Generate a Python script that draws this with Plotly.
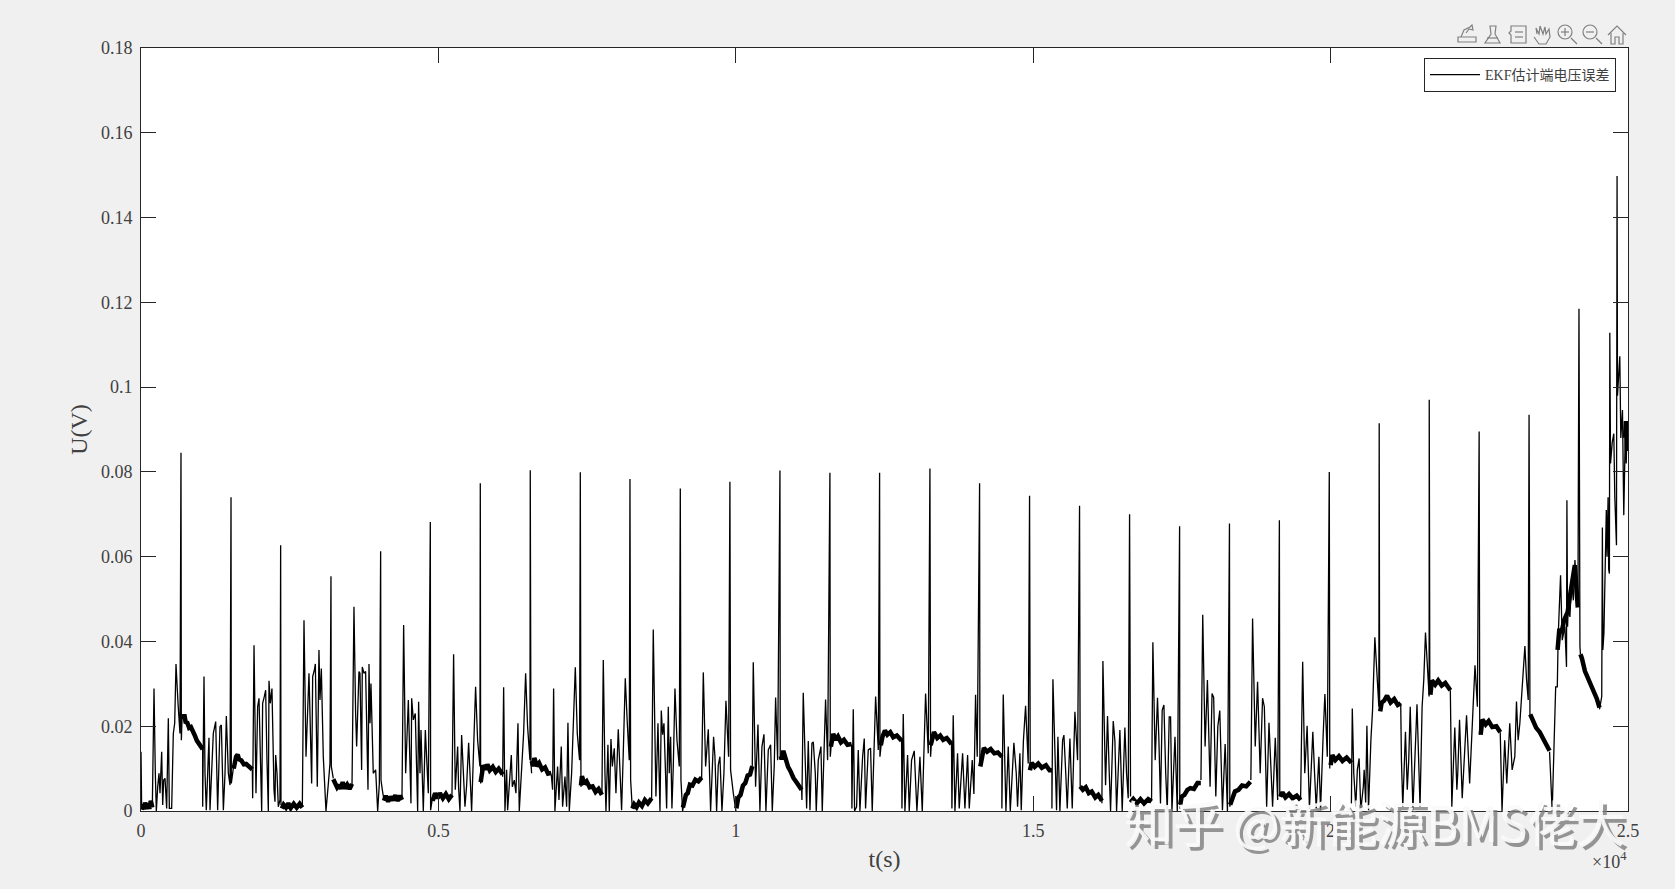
import plotly.graph_objects as go

# Readings from the picture: (t in s, U in mV)
LINE_A = [(0,14.0),(11,0.6),(191,1.4),(196,8.9),(219,28.9),(241,8.9),(258,0),(281,5.7),(303,8.9),(320,4.2),(348,14.0),(365,1.4),(382,7.3),(404,7.7),(432,0.6),(460,21.9),(477,.6),(516,.6),(544,18.3),(567,20.7),(589,34.7),(623,25.4),(656,18.3),(673,84.5),(679,16.7),(690,21.5),(701,21.5),
(1038,14.8),(1038,1.0),(1060,31.7),(1077,8.9),(1099,.2),(1144,17.3),(1161,.2),(1200,15.2),(1217,18.3),(1257,21.1),(1274,8),(1290,.2),(1329,19.9),(1352,20.3),(1386,.2),(1414,8.9),(1436,22.4),(1470,8.9),(1498,6.1),(1515,74.0),(1520,6.5),(1554,10.1),(1599,12.8),
(1874,9.7),(1879,3.0),(1902,39.1),(1924,8.9),(1935,4.2),(1963,24.6),(1986,26.6),(2031,0),(2047,25.4),(2075,27.0),(2098,28.5),(2120,12.0),(2143,0),(2154,30.7),(2176,25.4),(2204,28.9),(2238,5.0),(2255,2.2),(2266,13.2),(2289,8.9),(2311,1.0),(2339,2.6),(2350,62.7),(2356,1.4),
(2715,1.0),(2720,8.9),(2743,45.0),(2777,12.8),(2805,24.6),(2827,32.5),(2872,6.5),(2889,31.7),(2917,33.2),(2934,34.7),(2967,5.7),(2995,38.0),(3012,26.2),(3035,33.6),(3068,12.8),(3113,0),(3158,7.3),(3180,11.2),(3197,55.4),(3203,10.5),(3236,7.7),
(3551,5.7),(3584,48.2),(3612,23.0),(3629,15.2),(3668,32.9),(3685,32.5),(3713,9.7),(3724,34.0),(3752,32.5),(3780,32.9),(3820,5.0),(3837,34.7),(3854,20.7),(3870,30.1),(3909,8.9),(3949,9.7),(3983,0),(4011,6.5),(4033,61.3),(4039,7.3),(4061,5.0),(4089,2.6),
(4392,3.0),(4420,43.9),(4454,8.9),(4499,26.2),(4543,1.8),(4555,26.6),(4583,21.5),(4616,23.0),(4656,0),(4672,25.8),(4695,8.9),(4712,19.1),(4751,0),(4785,19.1),(4835,4.2),(4869,68.2),(4874,.2),(4908,3.4)]
LINE_B = [(5233,3.4),(5261,37.0),(5289,5.0),(5329,15.2),(5345,5.5),(5368,0),(5396,17.9),(5424,8.1),(5452,1.0),(5480,6),(5514,16.1),(5564,0),(5581,7.3),(5603,15.2),(5631,29.3),(5665,16.7),(5704,10.5),(5710,77.3),(5716,6.5),(5760,10.5),
(6086,8.1),(6103,29.2),(6125,0),(6153,9.7),(6170,.2),(6232,13.2),(6249,5.7),(6282,7.3),(6310,4.2),(6344,20.7),(6366,0),(6406,8.9),(6439,18.3),(6473,32.5),(6506,19.9),(6546,12.0),(6551,80.4),(6563,11.2),(6574,8.9),
(6905,8.5),(6927,5.0),(6944,28.9),(6966,0),(7011,10.5),(7034,2.6),(7073,15.2),(7095,1),(7135,8.1),(7163,1),(7185,20.8),(7208,0),(7247,8.9),(7275,19.1),(7309,33.9),(7342,18.3),(7381,12.0),(7393,79.9),(7404,5.7),(7421,8.1),
(7757,4.2),(7780,35.6),(7808,8.9),(7825,0),(7858,15.6),(7881,0),(7909,17.0),(7932,10.5),(7965,14.8),(7993,4.2),(8032,19.3),(8060,8.9),(8088,.2),(8116,13.6),(8150,31.3),(8184,20.7),(8217,12.0),(8229,78.3),(8240,7.3),(8268,.6),
(8593,2.6),(8621,42.8),(8655,12.8),(8666,3.4),(8700,20.7),(8734,0),(8756,23.7),(8778,18),(8801,20.7),(8823,8.9),(8846,.6),(8874,24.6),(8890,8.9),(8913,17.5),(8935,.6),(8958,10.5),(8986,28.9),(9020,16.7),(9059,10.5),(9076,76.1),(9087,7.3),(9115,0),(9154,3),
(9435,7.7),(9463,32.7),(9502,10.5),(9547,19.3),(9586,0),(9636,17.5),(9659,12.8),(9687,0),(9715,10.8),(9743,12.8),(9777,0),(9810,8.9),(9844,26.0),(9889,12.8),(9911,77.7),(9922,9.7),(9968,4.2),(10012,0),
(10287,10.5),(10304,35.1),(10343,5.7),(10383,20.4),(10416,0),(10450,15.2),(10484,18.1),(10517,0),(10557,14.4),(10596,15.6),(10624,0),(10658,11),(10680,26.8),(10714,12.0),(10753,80.3),(10758,12.8),(10781,13.2)]
LINE_C = [(11117,5.3),(11123,2.6),(11145,27.9),(11185,8.9),(11202,.6),(11230,16.5),(11258,.2),(11291,16.0),(11314,16.3),(11348,8.9),(11364,0),(11398,12),(11443,15.2),(11465,0),(11493,12),(11521,26.3),(11555,12),(11594,79.8),(11600,12.8),(11622,16.7),
(11959,15.6),(11964,.6),(11987,24),(12009,0),(12043,1),(12071,14.4),(12099,0),(12144,12.8),(12172,17.1),(12194,.6),(12239,14.4),(12278,14.8),(12306,0),(12335,12),(12363,27),(12408,14.4),(12430,79.8),(12436,12.8),(12464,16.7),
(12800,17.1),(12806,.6),(12828,22.9),(12856,0),(12901,13.2),(12929,0),(12968,12),(13013,14.2),(13058,0),(13109,12.8),(13148,0),(13176,12.8),(13204,27.7),(13249,13.6),(13277,80.8),(13288,12.8),(13305,16.7),
(13640,16.0),(13647,.6),(13669,22.6),(13698,0),(13742,13.6),(13770,.6),(13827,13.6),(13866,.6),(13911,13.2),(13939,.6),(13989,12),(14017,4),(14045,27.4),(14073,12.8),(14113,77.3),(14118,10.8),(14135,11.5),
(14488,13.2),(14488,.6),(14511,27.5),(14535,8.9),(14556,0),(14595,15.2),(14629,0),(14690,16.1),(14730,8.9),(14752,1),(14791,13.6),(14814,.2),(14850,16.5),(14887,24.8),(14931,11.2),(14954,74.4),(14965,9.7),
(15330,9.3),(15330,.6),(15347,31.1),(15385,8.9),(15408,.2),(15431,17.5),(15464,0),(15510,16.7),(15532,17.9),(15563,8.9),(15588,.6),(15633,17.1),(15672,.6),(15717,23.4),(15762,12),(15795,72),(15800,8.9),(15806,5.7),
(16171,1.8),(16188,35.4),(16233,6.1),(16266,22.4),(16295,8.9),(16317,0),(16362,21.2),(16390,16.5),(16418,0),(16474,19.1),(16513,0),(16558,19.7),(16586,8.9),(16614,3),(16637,70),(16653,3.4),
(17007,2.6),(17029,39.8),(17068,12),(17107,26.7),(17130,17),(17157,1.8),(17186,23.8),(17215,25),(17245,8.9),(17271,.2),(17304,22.2),(17327,22.2),(17350,0),(17401,17.5),(17440,0),(17479,67.2),(17482,.6),(17490,1.5),
(17838,7.3),(17868,46.3),(17908,15.2),(17947,30.9),(17992,5.7),(18025,27.7),(18052,26.8),(18088,3.4),(18122,19.9),(18155,23.7),(18200,.2),(18245,15.8),(18284,0),(18318,67.8),(18324,1),(18330,1.5),
(18678,7.3),(18707,45.4),(18752,15.2),(18791,30.5),(18835,8.9),(18875,26.6),(18905,24.6),(18944,1),(18983,20.8),(19017,8.9),(19044,1),(19089,17.3),(19129,2.6),(19158,68.6),(19165,3.4)]
LINE_D = [(19515,2.6),(19550,35.2),(19585,8.9),(19625,20.1),(19664,.6),(19721,18.7),(19750,8.9),(19778,.6),(19823,12.8),(19851,.2),(19895,18),(19924,27.6),(19964,12.8),(19998,80),(20006,10),
(20370,1.8),(20385,24.2),(20410,8.9),(20444,1),(20470,9.7),(20500,12.4),(20528,.2),(20570,5.7),(20585,9.7),(20610,2),(20631,20.1),(20658,.2),(20698,16.7),(20726,23.8),(20765,41),(20800,30.9),(20832,24.6),(20838,91.5),(20845,24.6),
(21200,25.4),(21212,12),(21235,1),(21262,11),(21280,18.7),(21310,5),(21335,12),(21360,24.6),(21405,.2),(21474,25.2),(21525,1),(21560,24.6),(21588,30.9),(21617,42.1),(21650,32.5),(21678,27),(21680,97),(21690,28),
(22035,28.5),(22060,1),(22110,19.7),(22145,5),(22160,8.9),(22190,21.5),(22235,3),(22308,22.6),(22360,6.5),(22410,21.5),(22450,34.4),(22490,24.6),(22520,89.5),(22530,18),
(22875,18.6),(22905,0),(22950,16.7),(22985,6.5),(23035,20.7),(23075,9.7),(23120,12.8),(23148,25.8),(23176,16.7),(23205,20.7),(23245,29.3),(23290,38.9),(23318,30.9),(23346,26.2),(23360,93.5),(23375,22.5),
(23705,14),(23749,0),(23775,12.8),(23808,29.3),(23835,29.3),(23850,41.1),(23890,55.6),(23918,40.3),(23963,43.5),(23990,34),(23997,73.3),(24008,43.5),(24020,48.2),(24047,45.8),(24076,54.5),(24105,49.7),(24132,59.2),(24160,52.1),(24183,50.6),(24200,118.5),(24216,38.8),(24225,37),
(24545,24),(24583,27),(24594,66.9),(24602,38),(24620,42),(24645,64),(24660,71),(24672,60),(24690,74),(24700,57),(24712,56),(24719,112.8),(24731,82),(24760,87),(24786,89),(24803,74),(24831,62.7),(24841,149.8),(24848,98),(24887,107.3),(24893,92),(24904,88),(24932,94.6),(24954,69.8),(24982,90.7),(24995,82),(25005,88),(25025,86)]

# The thick noisy plateaus between the bursts
BANDS = [
[(11,.3),(30,1.6),(50,.4),(70,2.0),(95,.5),(120,1.8),(140,.5),(165,2.4),(191,.8)],
[(701,21.6),(720,22.0),(729,22.8),(750,21.0),(780,20.8),(810,19.6),(840,19.8),(870,18.5),(900,18.0),(940,16.6),(970,16.0),(1000,15.6),(1038,14.6)],
[(1560,10.0),(1585,12.0),(1600,12.8),(1627,13.3),(1650,12.2),(1690,11.9),(1730,11.0),(1770,11.1),(1820,10.3),(1874,9.8)],
[(2370,.6),(2400,1.5),(2440,.8),(2480,1.8),(2520,.7),(2570,1.7),(2620,.8),(2670,1.7),(2715,.8)],
[(3236,7.5),(3265,6.3),(3300,5.6),(3330,6.2),(3360,5.2),(3394,6.8),(3430,5.3),(3470,6.2),(3510,5.2),(3551,6.4)],
[(4089,2.4),(4120,3.6),(4160,2.2),(4200,3.4),(4240,2.5),(4280,3.7),(4320,2.4),(4360,3.6),(4392,2.6)],
[(4908,2.4),(4950,4.2),(4990,3.0),(5030,4.2),(5080,3.0),(5130,4.0),(5180,2.8),(5233,3.8)],
[(5716,6.8),(5740,9.5),(5760,10.8),(5800,9.8),(5830,11.0),(5870,9.6),(5920,10.4),(5970,9.2),(6020,10.0),(6086,8.6)],
[(6574,11.8),(6600,10.6),(6620,12.5),(6660,10.6),(6700,11.3),(6750,9.8),(6800,10.3),(6850,8.8),(6905,9.0)],
[(7404,6.0),(7421,8.2),(7460,6.4),(7500,7.0),(7550,5.6),(7600,5.8),(7650,4.5),(7700,5.2),(7757,3.8)],
[(8268,.6),(8300,1.6),(8340,.9),(8380,2.0),(8430,1.2),(8480,2.6),(8530,1.8),(8593,3.0)],
[(9120,.8),(9140,2.5),(9170,3.8),(9200,4.2),(9238,6.2),(9280,6.0),(9330,7.4),(9380,7.0),(9435,7.9)],
[(10020,.6),(10052,3.2),(10090,3.8),(10130,6.0),(10170,6.6),(10210,8.4),(10250,8.6),(10287,10.6)],
[(10765,13),(10781,12.2),(10810,14.2),(10850,12.2),(10890,10.4),(10930,9.4),(10980,7.8),(11040,6.6),(11117,5.0)],
[(11610,15.2),(11635,17.6),(11650,18.2),(11690,16.8),(11730,17.6),(11780,16.2),(11830,16.8),(11890,15.6),(11959,15.8)],
[(12450,15.5),(12480,17.6),(12520,19.0),(12560,18.0),(12610,18.6),(12660,17.4),(12720,17.8),(12800,16.6)],
[(13290,15.5),(13320,17.6),(13345,18.6),(13400,17.2),(13450,17.8),(13500,16.8),(13560,17.2),(13640,15.8)],
[(14125,10.5),(14150,12.8),(14185,14.9),(14240,14.0),(14300,14.6),(14360,13.6),(14420,13.8),(14488,12.8)],
[(14960,9.6),(14990,11.4),(15040,10.4),(15100,11.2),(15160,10.2),(15230,10.8),(15290,9.6),(15330,9.6)],
[(15806,5.8),(15850,5.0),(15900,5.6),(15950,4.2),(16000,4.6),(16060,3.2),(16110,3.8),(16171,2.4)],
[(16653,2.0),(16700,2.8),(16760,1.8),(16820,2.8),(16880,1.8),(16950,2.8),(17007,2.2)],
[(17490,1.5),(17513,3.4),(17560,3.8),(17610,5.0),(17660,5.4),(17720,5.2),(17780,6.6),(17836,6.6)],
[(18330,1.5),(18370,3.2),(18410,4.6),(18470,5.0),(18530,6.0),(18600,5.8),(18670,6.9)],
[(19170,3.4),(19210,4.4),(19260,3.2),(19320,4.0),(19380,3.0),(19450,3.6),(19515,2.6)],
[(20020,10.8),(20050,13.2),(20100,12.0),(20160,12.9),(20220,11.8),(20290,12.6),(20370,11.4)],
[(20855,23.5),(20880,25.6),(20920,26.0),(20970,27.2),(21030,25.6),(21090,26.4),(21150,25.0),(21200,25.4)],
[(21700,27.4),(21725,30.8),(21780,29.8),(21830,30.8),(21890,29.6),(21950,30.2),(22035,28.5)],
[(22545,18),(22575,21.6),(22630,20.4),(22680,21.2),(22740,19.8),(22810,20.0),(22875,18.6)],
[(23380,22.8),(23430,20.8),(23480,19.6),(23540,18.6),(23600,17.0),(23660,15.6),(23705,14.2)],
[(23840,38),(23870,43),(23890,42),(23920,43),(23950,45),(23980,46),(24010,47),(24040,50),(24070,53),(24100,55),(24130,58),(24150,54),(24180,48)],
[(24225,37),(24250,36.0),(24300,33),(24350,31.5),(24400,29.5),(24450,28),(24500,26.5),(24545,24.4)],
[(24975,88),(24990,92),(25010,85),(25025,87)],
]

Y_TICKS = [0, .02, .04, .06, .08, .1, .12, .14, .16, .18]
Y_LABELS = ['0', '0.02', '0.04', '0.06', '0.08', '0.1', '0.12', '0.14', '0.16', '0.18']
X_TICKS = [0, 5000, 10000, 15000, 20000, 25000]
X_LABELS = ['0', '0.5', '1', '1.5', '2', '2.5']
T_CAL = 0.999  # the readings above run 0.1 % long
PLATEAU_GAP = 140  # a longer step in the line is a plateau, drawn by the band trace

line_t, line_u = [], []
previous = None
for seg in (LINE_A, LINE_B, LINE_C, LINE_D):
    for t, u in seg:
        if previous is not None and t - previous > PLATEAU_GAP:
            line_t.append(None)
            line_u.append(None)
        line_t.append(t * T_CAL)
        line_u.append(u / 1000)
        previous = t

band_t, band_u = [], []
for b in BANDS:
    band_t += [p[0] * T_CAL for p in b] + [None]
    band_u += [p[1] / 1000 for p in b] + [None]

SERIF = 'Liberation Serif, Noto Sans CJK SC'
INK = '#404040'
L, T, R, B = 141, 48, 1628, 811
W, H = 1675, 889
px = lambda x: (x - L) / (R - L)
py = lambda y: (B - y) / (B - T)

fig = go.Figure()
fig.add_trace(go.Scatter(x=line_t, y=line_u, mode='lines', connectgaps=False,
                         name='EKF估计端电压误差', line=dict(color='black', width=1.3)))
fig.add_trace(go.Scatter(x=band_t, y=band_u, mode='lines', showlegend=False,
                         line=dict(color='black', width=4.5)))

# toolbar icons
ICON = dict(color='#808080', width=1.2)
shapes = []
def path(pts, close=False):
    d = 'M' + 'L'.join(f'{px(x):.5f},{py(y):.5f}' for x, y in pts) + ('Z' if close else '')
    shapes.append(dict(type='path', xref='paper', yref='paper', path=d, line=ICON, layer='above'))
def circ(x0, y0, x1, y1):
    shapes.append(dict(type='circle', xref='paper', yref='paper', x0=px(x0), x1=px(x1),
                       y0=py(y0), y1=py(y1), line=ICON, layer='above'))
path([(1458, 42), (1476, 42), (1476, 37), (1458, 37)], True)
path([(1461, 37), (1464, 30), (1470, 27), (1472, 25), (1473, 30), (1469, 29), (1466, 33)])
path([(1490, 26), (1496, 26), (1495, 34), (1500, 43), (1485, 43), (1491, 34)], True)
path([(1487, 38), (1498, 38)])
path([(1511, 26), (1526, 26), (1526, 43), (1511, 43), (1511, 35), (1509, 33), (1511, 31)], True)
path([(1515, 32), (1523, 32)])
path([(1515, 37), (1523, 37)])
path([(1537, 34), (1536, 28), (1539, 34), (1540, 26), (1543, 34), (1545, 27), (1546, 34), (1549, 29),
      (1550, 37), (1546, 44), (1539, 44), (1534, 37)])
circ(1558, 25, 1572, 39)
path([(1571, 38), (1577, 44)])
path([(1561, 32), (1569, 32)])
path([(1565, 28), (1565, 36)])
circ(1583, 25, 1597, 39)
path([(1596, 38), (1602, 44)])
path([(1586, 32), (1594, 32)])
path([(1608, 35), (1617, 26), (1626, 35)])
path([(1611, 33), (1611, 44), (1615, 44), (1615, 37), (1619, 37), (1619, 44), (1623, 44), (1623, 33)])

WM = '知乎 @新能源BMS佬大'
annotations = [
    dict(text=WM, xref='paper', yref='paper', x=px(1379), y=py(824), xanchor='center', yanchor='middle',
         showarrow=False, font=dict(family='Noto Sans CJK SC', size=49, color='rgba(125,125,125,0.8)')),
    dict(text=WM, xref='paper', yref='paper', x=px(1375), y=py(820), xanchor='center', yanchor='middle',
         showarrow=False, font=dict(family='Noto Sans CJK SC', size=49, color='rgba(250,250,250,0.93)')),
    dict(text='×10<sup>4</sup>', xref='paper', yref='paper', x=px(1629), y=py(860), xanchor='right',
         yanchor='middle', showarrow=False, font=dict(family=SERIF, size=18, color=INK)),
]

axis = dict(showline=True, mirror='ticks', linecolor='#262626', linewidth=1, ticks='inside', ticklen=15,
            tickcolor='#262626', tickwidth=1, showgrid=False, zeroline=False,
            tickfont=dict(family=SERIF, size=18, color=INK))
fig.update_layout(
    width=W, height=H, autosize=False, paper_bgcolor='#f0f0f0', plot_bgcolor='white',
    margin=dict(l=L, r=W - R, t=T, b=H - B, pad=0),
    xaxis=dict(axis, range=[0, 25000], tickvals=X_TICKS, ticktext=X_LABELS, ticklabelstandoff=3,
               title=dict(text='t(s)', font=dict(family=SERIF, size=24, color=INK), standoff=10)),
    yaxis=dict(axis, range=[0, .18], tickvals=Y_TICKS, ticktext=Y_LABELS, ticklabelstandoff=4,
               title=dict(text='U(V)', font=dict(family=SERIF, size=24, color=INK), standoff=6)),
    legend=dict(x=px(1616), xanchor='right', y=py(58), yanchor='top', bgcolor='white', bordercolor='#262626',
                borderwidth=1, itemwidth=50, font=dict(family=SERIF, size=14, color=INK),
                tracegroupgap=0),
    shapes=shapes, annotations=annotations, showlegend=True,
)
fig.write_html('out.html', config=dict(displayModeBar=False),
               post_script="document.body.style.margin='0';document.body.style.background='#f0f0f0';"
                           "document.documentElement.style.overflow='hidden';")
